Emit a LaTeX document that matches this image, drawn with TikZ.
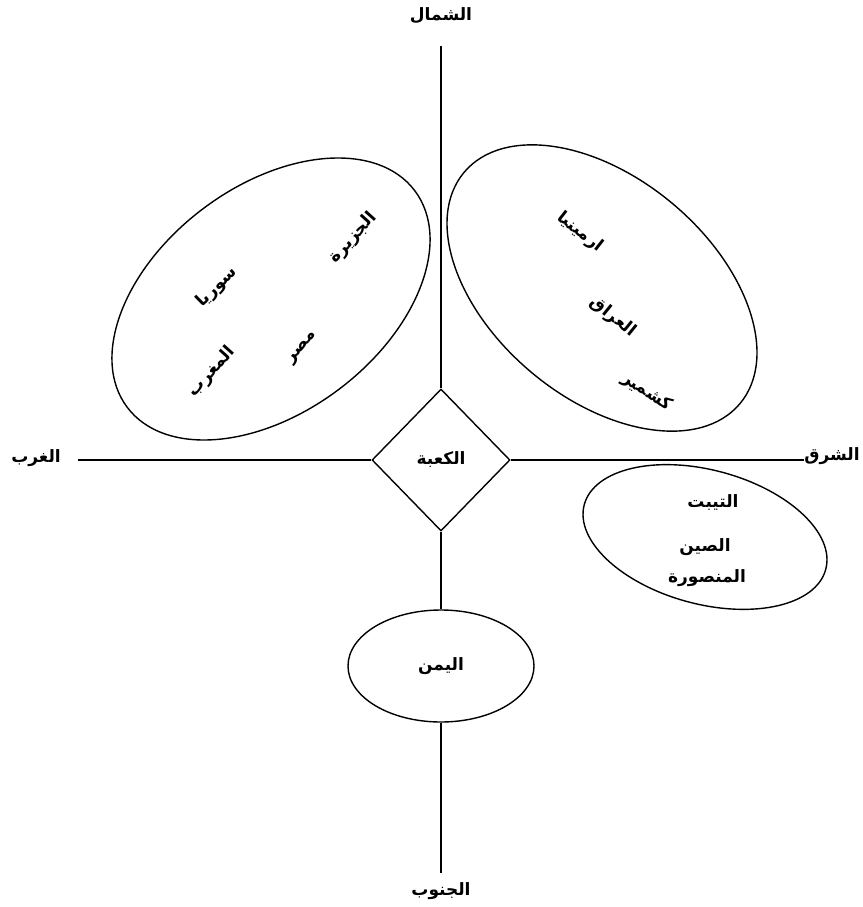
\documentclass[tikz,border=0pt]{standalone}
\usepackage{fontspec}
\usetikzlibrary{shapes.geometric}
\TeXXeTstate=1
\newfontfamily\arabicfont[Script=Arabic]{DejaVu Sans}
\newcommand{\ar}[1]{\arabicfont\bfseries\beginR #1\endR}

\begin{document}
\begin{tikzpicture}[
    x=1pt, y=-1pt,
    line width=1.4pt,
    lbl/.style={inner sep=1pt, font=\fontsize{17}{20}\selectfont},
    kaababox/.style={draw, shape=diamond, inner sep=0pt, minimum width=138pt, minimum height=142pt, font=\fontsize{17}{20}\selectfont},
    yemenbox/.style={draw, shape=ellipse, inner sep=0pt, minimum width=186pt, minimum height=112pt, font=\fontsize{17}{20}\selectfont},
    region/.style={draw}
]
\useasboundingbox (0,0) rectangle (862,907);

% compass points
\node[lbl] (north) at (441,16) {\ar{الشمال}};
\node[lbl] (south) at (441,891) {\ar{الجنوب}};
\node[lbl] (west) at (36,458) {\ar{الغرب}};
\node[lbl] (east) at (832,456) {\ar{الشرق}};
\coordinate (ntip) at (441,46);
\coordinate (stip) at (441,873);
\coordinate (wtip) at (78,460);
\coordinate (etip) at (804,460);

% centre and south
\node[kaababox] (kaaba) at (441,460) {\ar{الكعبة}};
\node[yemenbox] (yemen) at (441,666) {\ar{اليمن}};

\draw (ntip) -- (kaaba.north);
\draw (kaaba.south) -- (yemen.north);
\draw (yemen.south) -- (stip);
\draw (wtip) -- (kaaba.west);
\draw (kaaba.east) -- (etip);

% north-west group
\draw[region, rotate around={37:(271,299)}] (271,299) ellipse [x radius=180, y radius=113];
\node[lbl, rotate=48] (jazira) at (353,238) {\ar{الجزيرة}};
\node[lbl, rotate=44] (syria) at (217,287) {\ar{سوريا}};
\node[lbl, rotate=50] (misr) at (303,348) {\ar{مصر}};
\node[lbl, rotate=48] (maghrib) at (212,372) {\ar{المغرب}};

% north-east group
\draw[region, rotate around={-40:(602,288)}] (602,288) ellipse [x radius=180, y radius=110];
\node[lbl, rotate=-38] (armenia) at (580,232) {\ar{ارمينيا}};
\node[lbl, rotate=-39] (iraq) at (613,317) {\ar{العراق}};
\node[lbl, rotate=-33] (kashmir) at (647,392) {\ar{كشمير}};

% south-east group
\draw[region, rotate around={-15:(705,537)}] (705,537) ellipse [x radius=125, y radius=67];
\node[lbl] (tibet) at (713,503) {\ar{التيبت}};
\node[lbl] (china) at (705,547) {\ar{الصين}};
\node[lbl] (mansura) at (707,578) {\ar{المنصورة}};
\end{tikzpicture}
\end{document}
